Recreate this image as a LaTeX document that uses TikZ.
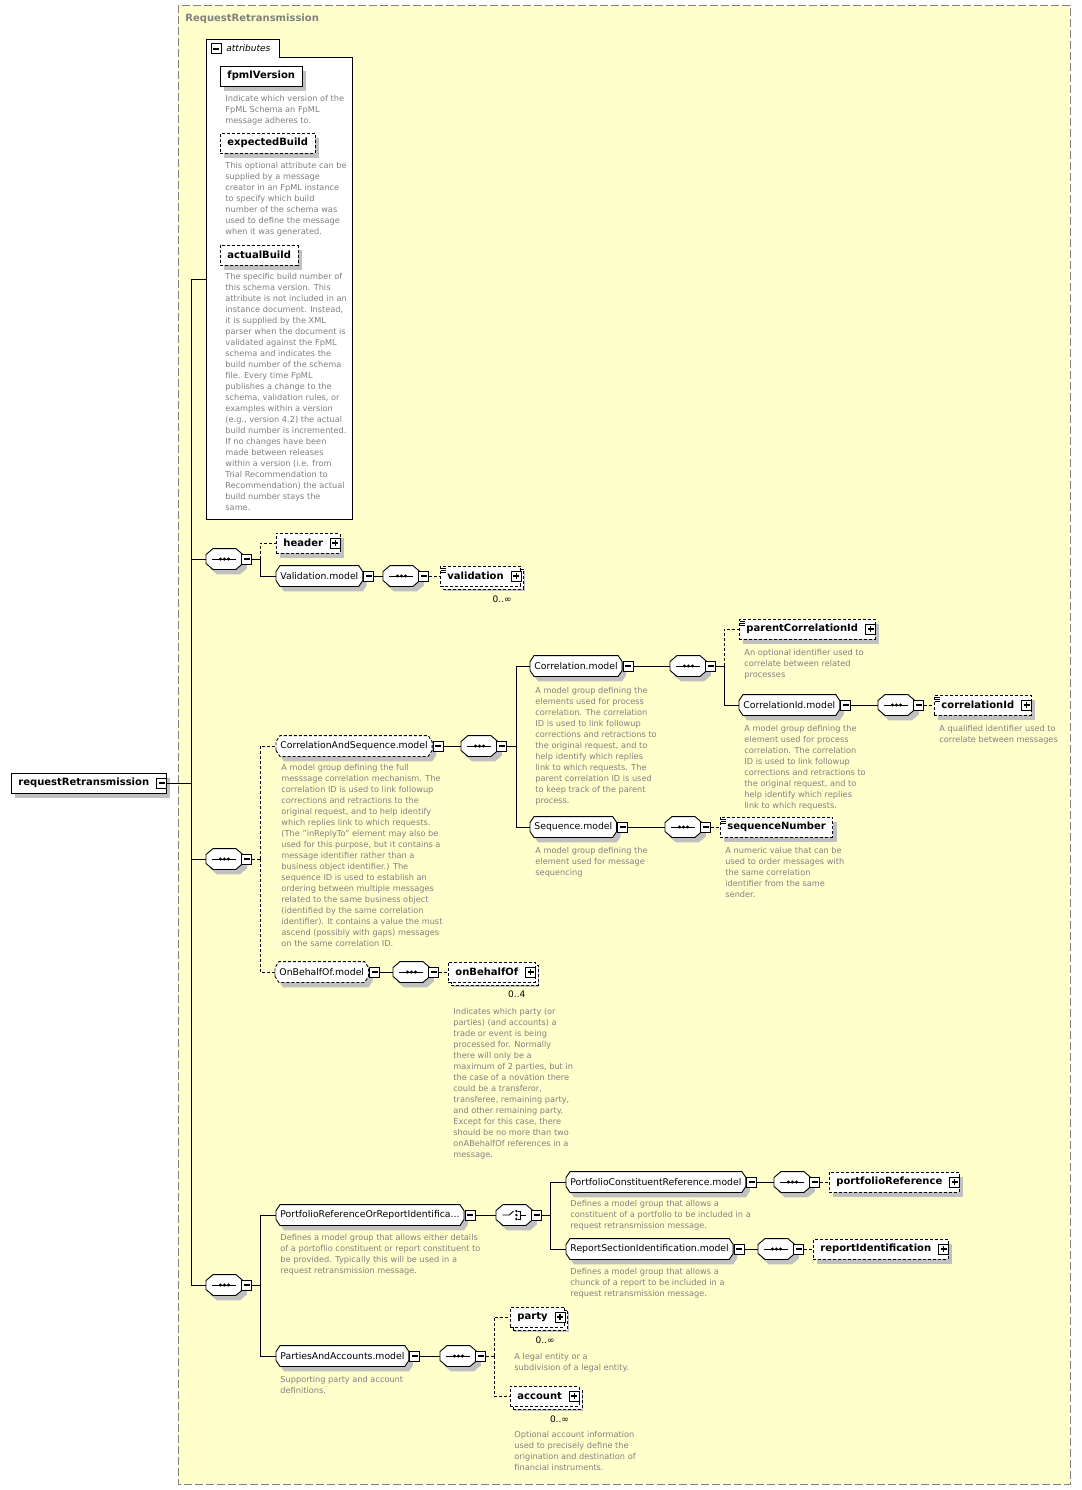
\documentclass[tikz,border=0pt]{standalone}
\usepackage{fontspec}
\setmainfont{DejaVu Sans}
\usepackage{tikz}
\usetikzlibrary{shadows, positioning}

\definecolor{schemabg}{RGB}{255,255,204}
\definecolor{descgray}{RGB}{128,128,128}
\definecolor{shadegray}{RGB}{192,192,192}

% octagon outline for model groups and compositors
\makeatletter
\newdimen\octxa \newdimen\octya \newdimen\octxb \newdimen\octyb \newdimen\octcx \newdimen\octcy
\pgfkeys{/pgf/octa xcut/.initial=4pt, /pgf/octa ycut/.initial=6pt}
\pgfdeclareshape{octabox}{
  \inheritsavedanchors[from=rectangle]
  \inheritanchorborder[from=rectangle]
  \inheritanchor[from=rectangle]{center}
  \inheritanchor[from=rectangle]{north}
  \inheritanchor[from=rectangle]{south}
  \inheritanchor[from=rectangle]{east}
  \inheritanchor[from=rectangle]{west}
  \inheritanchor[from=rectangle]{north east}
  \inheritanchor[from=rectangle]{north west}
  \inheritanchor[from=rectangle]{south east}
  \inheritanchor[from=rectangle]{south west}
  \inheritanchor[from=rectangle]{base}
  \backgroundpath{%
    \pgfmathsetlength\octcx{\pgfkeysvalueof{/pgf/octa xcut}}%
    \pgfmathsetlength\octcy{\pgfkeysvalueof{/pgf/octa ycut}}%
    \southwest \octxa=\pgf@x \octya=\pgf@y
    \northeast \octxb=\pgf@x \octyb=\pgf@y
    \pgfpathmoveto{\pgfqpoint{\octxa}{\dimexpr\octya+\octcy\relax}}%
    \pgfpathlineto{\pgfqpoint{\octxa}{\dimexpr\octyb-\octcy\relax}}%
    \pgfpathlineto{\pgfqpoint{\dimexpr\octxa+\octcx\relax}{\octyb}}%
    \pgfpathlineto{\pgfqpoint{\dimexpr\octxb-\octcx\relax}{\octyb}}%
    \pgfpathlineto{\pgfqpoint{\octxb}{\dimexpr\octyb-\octcy\relax}}%
    \pgfpathlineto{\pgfqpoint{\octxb}{\dimexpr\octya+\octcy\relax}}%
    \pgfpathlineto{\pgfqpoint{\dimexpr\octxb-\octcx\relax}{\octya}}%
    \pgfpathlineto{\pgfqpoint{\dimexpr\octxa+\octcx\relax}{\octya}}%
    \pgfpathclose
  }
}
\makeatother

\tikzset{
  outerframe/.style={draw=descgray, fill=schemabg, dash pattern=on 8pt off 3pt},
  ttl/.style={anchor=north west, inner sep=0pt, text=descgray, font=\bfseries\fontsize{10}{12}\selectfont},
  boxshadow/.style={drop shadow={shadow xshift=4pt, shadow yshift=-5pt, fill=shadegray, draw=none, opacity=1}},
  elem/.style={draw, fill=white, boxshadow, anchor=west, minimum height=20pt, inner xsep=7pt, inner ysep=0pt, font=\bfseries\fontsize{10}{12}\selectfont},
  opt/.style={dash pattern=on 3pt off 2pt},
  room/.style={execute at end node={\hspace{10pt}}},
  many/.style={copy shadow={shadow xshift=3pt, shadow yshift=-3pt}},
  simpletype/.style={path picture={
    \foreach \k in {2,4,6}
      \draw[line width=0.6pt, solid] ([xshift=1pt,yshift=-\k pt]path picture bounding box.north west) -- ++(5pt,0);}},
  model/.style={octabox, octa xcut=4pt, octa ycut=6pt, draw, fill=white, boxshadow, anchor=west, minimum height=20pt, inner xsep=4pt, inner ysep=0pt, font=\fontsize{9.3}{11}\selectfont},
  compositor/.style={octabox, octa xcut=7pt, octa ycut=6pt, draw, fill=white, boxshadow, anchor=west, minimum width=36pt, minimum height=20pt, inner sep=0pt},
  seqbox/.style={compositor, path picture={
    \draw ([xshift=-12pt]path picture bounding box.center) -- ([xshift=12pt]path picture bounding box.center);
    \foreach \d in {-4,0,4}
      \fill[black] ([xshift=\d pt]path picture bounding box.center) circle (1.7pt);}},
  choicebox/.style={compositor, path picture={
    \draw ([xshift=-12pt]path picture bounding box.center) -- ([xshift=-5pt]path picture bounding box.center) -- ([xshift=-1pt,yshift=4pt]path picture bounding box.center);
    \foreach \d in {-4,0,4}
      \fill[black] ([xshift=2pt,yshift=\d pt]path picture bounding box.center) circle (1.3pt);
    \draw ([xshift=4pt,yshift=4pt]path picture bounding box.center) -- ++(2pt,0) -- ++(0,-8pt) -- ++(-2pt,0);
    \draw ([xshift=6pt]path picture bounding box.center) -- ([xshift=12pt]path picture bounding box.center);}},
  minusbox/.style={draw, fill=white, line width=1pt, minimum size=10pt, inner sep=0pt, path picture={
    \draw[line width=1.2pt] ([xshift=-3pt]path picture bounding box.center) -- ([xshift=3pt]path picture bounding box.center);}},
  plusbox/.style={draw, fill=white, line width=1pt, minimum size=10pt, inner sep=0pt, path picture={
    \draw[line width=1.2pt] ([xshift=-3pt]path picture bounding box.center) -- ([xshift=3pt]path picture bounding box.center);
    \draw[line width=1.2pt] ([yshift=-3pt]path picture bounding box.center) -- ([yshift=3pt]path picture bounding box.center);}},
  desc/.style={anchor=north west, inner sep=0pt, align=left, text=descgray, font=\fontsize{8.2}{11}\selectfont},
  card/.style={inner sep=0pt, font=\fontsize{9}{10}\selectfont}
}

\begin{document}
\begin{tikzpicture}[x=1pt, y=-1pt, line width=0.9pt]
  \useasboundingbox (0,0) rectangle (1081,1490);
  \draw[outerframe] (178,5) rectangle (1070,1484);
  \node[ttl] (title) at (185,13) {RequestRetransmission};

  % attributes
  \draw[fill=white] (206,519) -- (206,39) -- (279,39) -- (279,57) -- (352,57) -- (352,519) -- cycle;
  \node[minusbox] (attrX) at (216,49) {};
  \node[anchor=west, inner sep=0pt, font=\itshape\fontsize{9}{11}\selectfont] (attrs) at (226,48) {attributes};
  \coordinate (attrin) at (206,279);
  \node[elem] (fpml) at (220,76) {fpmlVersion};
  \node[desc] (fpmld) at (225,95) {Indicate which version of the\\FpML Schema an FpML\\message adheres to.};
  \node[elem, opt] (exb) at (220,143) {expectedBuild};
  \node[desc] (exbd) at (225,162) {This optional attribute can be\\supplied by a message\\creator in an FpML instance\\to specify which build\\number of the schema was\\used to define the message\\when it was generated.};
  \node[elem, opt] (acb) at (220,255) {actualBuild};
  \node[desc] (acbd) at (225,273) {The specific build number of\\this schema version. This\\attribute is not included in an\\instance document. Instead,\\it is supplied by the XML\\parser when the document is\\validated against the FpML\\schema and indicates the\\build number of the schema\\file. Every time FpML\\publishes a change to the\\schema, validation rules, or\\examples within a version\\(e.g., version 4.2) the actual\\build number is incremented.\\If no changes have been\\made between releases\\within a version (i.e. from\\Trial Recommendation to\\Recommendation) the actual\\build number stays the\\same.};

  % root
  \node[elem, room] (root) at (11,783) {requestRetransmission};
  \node[minusbox] (rootX) at ([xshift=-5pt]root.east) {};
  \coordinate (sp) at (191,783);

  % first sequence
  \node[seqbox] (s1) at (206,559) {};
  \node[minusbox] (s1X) at ([xshift=4pt]s1.east) {};
  \coordinate (b1) at (260,559);
  \node[elem, opt, room] (header) at (276,543) {header};
  \node[plusbox] (headerX) at ([xshift=-5pt]header.east) {};
  \node[model] (valm) at (276,576) {Validation.model};
  \node[minusbox] (valmX) at ([xshift=6pt]valm.east) {};
  \node[seqbox] (s1a) at (383,576) {};
  \node[minusbox] (s1aX) at ([xshift=4pt]s1a.east) {};
  \node[elem, opt, many, simpletype, room] (val) at (440,576) {validation};
  \node[plusbox] (valX) at ([xshift=-5pt]val.east) {};
  \node[card, below left=9pt and 9pt of val.south east] (valc) {0..∞};

  % second sequence
  \node[seqbox] (s2) at (206,859) {};
  \node[minusbox] (s2X) at ([xshift=4pt]s2.east) {};
  \coordinate (b2) at (260,859);
  \node[model, opt] (casm) at (276,746) {CorrelationAndSequence.model};
  \node[minusbox] (casmX) at ([xshift=6pt]casm.east) {};
  \node[desc] (casmd) at (281,764) {A model group defining the full\\messsage correlation mechanism. The\\correlation ID is used to link followup\\corrections and retractions to the\\original request, and to help identify\\which replies link to which requests.\\(The "inReplyTo" element may also be\\used for this purpose, but it contains a\\message identifier rather than a\\business object identifier.) The\\sequence ID is used to establish an\\ordering between multiple messages\\related to the same business object\\(identified by the same correlation\\identifier). It contains a value the must\\ascend (possibly with gaps) messages\\on the same correlation ID.};
  \node[seqbox] (s2a) at (461,746) {};
  \node[minusbox] (s2aX) at ([xshift=4pt]s2a.east) {};
  \coordinate (b2a) at (516,746);
  \node[model] (corm) at (530,666) {Correlation.model};
  \node[minusbox] (cormX) at ([xshift=6pt]corm.east) {};
  \node[desc] (cormd) at (535,687) {A model group defining the\\elements used for process\\correlation. The correlation\\ID is used to link followup\\corrections and retractions to\\the original request, and to\\help identify which replies\\link to which requests. The\\parent correlation ID is used\\to keep track of the parent\\process.};
  \node[seqbox] (s2b) at (670,666) {};
  \node[minusbox] (s2bX) at ([xshift=4pt]s2b.east) {};
  \coordinate (b2b) at (724,666);
  \node[elem, opt, simpletype, room] (pcid) at (739,629) {parentCorrelationId};
  \node[plusbox] (pcidX) at ([xshift=-5pt]pcid.east) {};
  \node[desc] (pcidd) at (744,649) {An optional identifier used to\\correlate between related\\processes};
  \node[model] (cidm) at (739,705) {CorrelationId.model};
  \node[minusbox] (cidmX) at ([xshift=6pt]cidm.east) {};
  \node[desc] (cidmd) at (744,725) {A model group defining the\\element used for process\\correlation. The correlation\\ID is used to link followup\\corrections and retractions to\\the original request, and to\\help identify which replies\\link to which requests.};
  \node[seqbox] (s2c) at (878,705) {};
  \node[minusbox] (s2cX) at ([xshift=4pt]s2c.east) {};
  \node[elem, opt, simpletype, room] (cid) at (934,705) {correlationId};
  \node[plusbox] (cidX) at ([xshift=-5pt]cid.east) {};
  \node[desc] (cidd) at (939,725) {A qualified identifier used to\\correlate between messages};
  \node[model] (seqm) at (530,827) {Sequence.model};
  \node[minusbox] (seqmX) at ([xshift=6pt]seqm.east) {};
  \node[desc] (seqmd) at (535,847) {A model group defining the\\element used for message\\sequencing};
  \node[seqbox] (s2d) at (665,827) {};
  \node[minusbox] (s2dX) at ([xshift=4pt]s2d.east) {};
  \node[elem, opt, simpletype] (seqn) at (720,827) {sequenceNumber};
  \node[desc] (seqnd) at (725,847) {A numeric value that can be\\used to order messages with\\the same correlation\\identifier from the same\\sender.};
  \node[model, opt] (obm) at (275,972) {OnBehalfOf.model};
  \node[minusbox] (obmX) at ([xshift=6pt]obm.east) {};
  \node[seqbox] (s2e) at (393,972) {};
  \node[minusbox] (s2eX) at ([xshift=4pt]s2e.east) {};
  \node[elem, opt, many, room] (obo) at (448,972) {onBehalfOf};
  \node[plusbox] (oboX) at ([xshift=-5pt]obo.east) {};
  \node[card, below left=8pt and 10pt of obo.south east] (oboc) {0..4};
  \node[desc] (obod) at (453,1008) {Indicates which party (or\\parties) (and accounts) a\\trade or event is being\\processed for. Normally\\there will only be a\\maximum of 2 parties, but in\\the case of a novation there\\could be a transferor,\\transferee, remaining party,\\and other remaining party.\\Except for this case, there\\should be no more than two\\onABehalfOf references in a\\message.};

  % third sequence
  \node[seqbox] (s3) at (206,1285) {};
  \node[minusbox] (s3X) at ([xshift=4pt]s3.east) {};
  \coordinate (b3) at (260,1285);
  \node[model] (prm) at (276,1215) {PortfolioReferenceOrReportIdentifica...};
  \node[minusbox] (prmX) at ([xshift=6pt]prm.east) {};
  \node[desc] (prmd) at (280,1234) {Defines a model group that allows either details\\of a portoflio constituent or report constituent to\\be provided. Typically this will be used in a\\request retransmission message.};
  \node[choicebox] (c3) at (496,1215) {};
  \node[minusbox] (c3X) at ([xshift=4pt]c3.east) {};
  \coordinate (b3a) at (550,1215);
  \node[model] (pcrm) at (566,1182) {PortfolioConstituentReference.model};
  \node[minusbox] (pcrmX) at ([xshift=6pt]pcrm.east) {};
  \node[desc] (pcrmd) at (570,1200) {Defines a model group that allows a\\constituent of a portfolio to be included in a\\request retransmission message.};
  \node[seqbox] (s3a) at (774,1182) {};
  \node[minusbox] (s3aX) at ([xshift=4pt]s3a.east) {};
  \node[elem, opt, room] (pref) at (829,1182) {portfolioReference};
  \node[plusbox] (prefX) at ([xshift=-5pt]pref.east) {};
  \node[model] (rsim) at (566,1249) {ReportSectionIdentification.model};
  \node[minusbox] (rsimX) at ([xshift=6pt]rsim.east) {};
  \node[desc] (rsimd) at (570,1268) {Defines a model group that allows a\\chunck of a report to be included in a\\request retransmission message.};
  \node[seqbox] (s3b) at (758,1249) {};
  \node[minusbox] (s3bX) at ([xshift=4pt]s3b.east) {};
  \node[elem, opt, room] (rid) at (813,1249) {reportIdentification};
  \node[plusbox] (ridX) at ([xshift=-5pt]rid.east) {};
  \node[model] (pam) at (276,1356) {PartiesAndAccounts.model};
  \node[minusbox] (pamX) at ([xshift=6pt]pam.east) {};
  \node[desc] (pamd) at (280,1376) {Supporting party and account\\definitions.};
  \node[seqbox] (s3c) at (440,1356) {};
  \node[minusbox] (s3cX) at ([xshift=4pt]s3c.east) {};
  \coordinate (b3b) at (494,1356);
  \node[elem, opt, many, room] (party) at (510,1317) {party};
  \node[plusbox] (partyX) at ([xshift=-5pt]party.east) {};
  \node[card, below left=9pt and 10pt of party.south east] (partyc) {0..∞};
  \node[desc] (partyd) at (514,1353) {A legal entity or a\\subdivision of a legal entity.};
  \node[elem, opt, many, room] (acct) at (510,1396) {account};
  \node[plusbox] (acctX) at ([xshift=-5pt]acct.east) {};
  \node[card, below left=9pt and 10pt of acct.south east] (acctc) {0..∞};
  \node[desc] (acctd) at (514,1431) {Optional account information\\used to precisely define the\\origination and destination of\\financial instruments.};

  % connectors
  \draw (rootX.east) -- (sp);
  \draw (sp) |- (attrin);
  \draw (sp) |- (s1.west);
  \draw (sp) |- (s2.west);
  \draw (sp) |- (s3.west);
  \draw (s1X.east) -- (b1);
  \draw[opt] (b1) |- (header.west);
  \draw (b1) |- (valm.west);
  \draw (valmX.east) -- (s1a.west);
  \draw[opt] (s1aX.east) -- (val.west);
  \draw[opt] (s2X.east) -- (b2);
  \draw[opt] (b2) |- (casm.west);
  \draw[opt] (b2) |- (obm.west);
  \draw (casmX.east) -- (s2a.west);
  \draw (s2aX.east) -- (b2a);
  \draw (b2a) |- (corm.west);
  \draw (b2a) |- (seqm.west);
  \draw (cormX.east) -- (s2b.west);
  \draw (s2bX.east) -- (b2b);
  \draw[opt] (b2b) |- (pcid.west);
  \draw (b2b) |- (cidm.west);
  \draw (cidmX.east) -- (s2c.west);
  \draw[opt] (s2cX.east) -- (cid.west);
  \draw (seqmX.east) -- (s2d.west);
  \draw[opt] (s2dX.east) -- (seqn.west);
  \draw (obmX.east) -- (s2e.west);
  \draw[opt] (s2eX.east) -- (obo.west);
  \draw (s3X.east) -- (b3);
  \draw (b3) |- (prm.west);
  \draw (b3) |- (pam.west);
  \draw (prmX.east) -- (c3.west);
  \draw (c3X.east) -- (b3a);
  \draw (b3a) |- (pcrm.west);
  \draw (b3a) |- (rsim.west);
  \draw (pcrmX.east) -- (s3a.west);
  \draw[opt] (s3aX.east) -- (pref.west);
  \draw (rsimX.east) -- (s3b.west);
  \draw[opt] (s3bX.east) -- (rid.west);
  \draw (pamX.east) -- (s3c.west);
  \draw[opt] (s3cX.east) -- (b3b);
  \draw[opt] (b3b) |- (party.west);
  \draw[opt] (b3b) |- (acct.west);
\end{tikzpicture}
\end{document}
